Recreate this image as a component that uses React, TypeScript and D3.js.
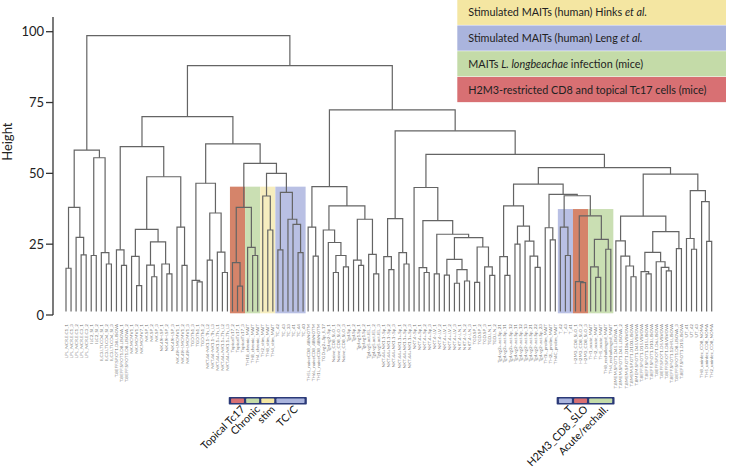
import React from 'react';
import * as d3 from 'd3';

const W = 748, H = 468;

const leafLabels = [
  "LPL_NCR.E.C1_1","LPL_NCR.E.C1_3","LPL_NCR.E.C1_2","LPL_NCR.E.C3_1","LPL_NCR.E.C3_2",
  "ILC2_SI_1","ILC2_SI_2",
  "ILC3.LTI.CD4_SI_1","ILC3.LTI.CD4_SI_2","ILC3.LTI.CD4_SI_3",
  "T.8EFF.SP.OT1.D8.LISOVA","T.8EFF.SP.OT1.D8.LISOVA_1","T.8EFF.SP.OT1.D8.LISOVA_2",
  "NK.MCMV1_1","NK.MCMV1_2","NK.MCMV7_1","NK.SP_1","NK.SP_2","NK.SP_3",
  "NK.49H.SP_1","NK.49H.SP_2","NK.49H.SP_3","NK.49H.MCMV1_1","NK.49H.MCMV1_2","NK.49H.MCMV1_3",
  "TGD.Th1_3","TGD.Th1_1","TGD.Th1_2",
  "NKT.44-NK1.1-.Th_L2","NKT.44-NK1.1-.Th_L3","NKT.44+NK1.1+.Th_L1","NKT.44+NK1.1+.Th_L2","NKT.44+NK1.1+.Th_L3",
  "TopicalTc17_2","TopicalTc17_1","TopicalTc17_3",
  "TH18_chronic_MAIT","TH8_chronic_MAIT","TH4_chronic_MAIT",
  "TH2_stim_MAIT","TH8_stim_MAIT","TH4_stim_MAIT",
  "TC_42","TC_43","TC_33","TC_41","TC_44","TC_40",
  "TH5L_naiveCD8_48hNOTM","TH6L_naiveCD8_48hNOTM","TH1L_naiveCD8_48hNOTM",
  "TGD.vg2+.Sp_IL17","Tgd.vg2-.Sp_1",
  "Naive_CD8_SLO_1","Naive_CD8_SLO_2","Naive_CD8_SLO_3",
  "Tgd.Sp_1","Tgd.Sp_2","Tgd.vg1.Sp_1","Tgd.vg1.Sp_2",
  "Tgd.vg5.act.IEL_1","Tgd.vg5.act.IEL_2","Tgd.vg5.act.IEL_3",
  "NKT.44+NK1.1-.Sp_1","NKT.44+NK1.1-.Sp_2","NKT.44+NK1.1-.Sp_3","NKT.44+NK1.1+.Sp_1","NKT.44+NK1.1+.Sp_2","NKT.44+NK1.1+.Sp_3",
  "NKT.4-.Sp_1","NKT.4+.Sp_1","NKT.4+.Sp_2","NKT.4+.Sp_3","NKT.4-.LV_1","NKT.4-.LV_2",
  "NKT.4+.LV_1","NKT.4+.LV_2","NKT.4+.LV_3",
  "NKT.4-.LN_1","NKT.4-.LN_2","NKT.4-.LN_3",
  "TGD.SP_1","TGD.SP_2","TGD.SP_3","TGD.LN_1","TGD.LN_2",
  "Tgd.vg2+.act.Sp_21","Tgd.vg2+.act.Sp_11","Tgd.vg2+.act.Sp_12","Tgd.vg2-.act.Sp_11","Tgd.vg2-.act.Sp_12",
  "Tgd.vg2-.act.Sp_13","Tgd.vg2-.act.Sp_21","Tgd.vg2-.act.Sp_22","Tgd.vg2-.act.Sp_23",
  "TH1L_prolim_MAIT","TH2L_prolim_MAIT","TH4C_prolim_MAIT",
  "T_42","T_43","T_41",
  "H2M3_CD8_SLO_1","H2M3_CD8_SLO_2","H2M3_CD8_SLO_3",
  "TH1_acute_MAIT","TH2_acute_MAIT","TH5_acute_MAIT","TH8_rechallenged_MAIT","TH4_rechallenged_MAIT",
  "T.8MEM.SP.OT1.D45.LISOVA_1","T.8MEM.SP.OT1.D45.LISOVA_2","T.8MEM.SP.OT1.D106.VSVOVA","T.8MEM.SP.OT1.D100.LISOVA","T.8MEM.SP.OT1.D45.VSVOVA",
  "T.8EFF.SP.OT1.D15.VSVOVA","T.8EFF.SP.OT1.D15.LISOVA","T.8EFF.SP.OT1.D10.LISOVA",
  "T.8EFF.SP.OT1.D6.LISOVA","T.8EFF.SP.OT1.D5.VSVOVA","T.8EFF.SP.OT1.D8.VSVOVA","T.8EFF.SP.OT1.12HR.LISOVA",
  "T.8EFF.SP.OT1.D8.LISOVA_3","T.8EFF.SP.OT1.D15LISOVA",
  "UT_41","UT_42","UT_43",
  "TH8_uninfec_CD8_NOMA","TH5_uninfec_CD8_NOMA","TH2_uninfec_CD8_NOMA"
];

// merges: [height, left, right]; numbers are leaf indices
const clusterA = [38, [16.5, 0, 1], [27.4, 2, [21.2, 3, 4]]];
const clusterB = [55.5, [21, 5, 6], [22, 7, [18, 8, 9]]];
const clusterC = [59.4,
  [23, 10, [17.5, 11, 12]],
  [48.8,
    [30.2, [20.7, 13, [10.4, 14, 15]], [25.8, [17.6, 16, [13.5, 17, 18]], [18, 19, [14.5, 20, 21]]]],
    [31, 22, [17.5, 23, 24]]]];
const clusterDL = [46.5, [12.2, 25, [11.7, 26, 27]], [36, [19.4, 28, 29], [22.2, 30, [15, 31, 32]]]];
const clusterE = [53.5,
  [38, [18.5, 33, [10.2, 34, 35]], [23.9, 36, [21, 37, 38]]],
  [50, [42, 39, [30, 40, 41]], [43.3, [23, 42, 43], [33.8, 44, [32, 45, [22, 46, 47]]]]]];
const clusterF = [45.3,
  [31, 48, [20.8, 49, 50]],
  [38.5, [30, 51, [25.6, 52, [21, [15, 53, 54], [17, 55, 56]]]],
    [33.8, [19.4, 57, [17.5, 58, 59]], [21.4, 60, [14.5, 61, 62]]]]];
const clusterG = [34, [20.6, 63, [16, 64, 65]], [22, 66, [18, 67, 68]]];
const clusterH = [45, 69, [33.3, [16.7, 70, [15, 71, 72]],
  [28.5, [14.5, 73, 74],
    [27.3, [19.6, [14.1, 75, 76], [16, [11.2, 77, 78], [12, 79, 80]]],
      [24, [11.5, 81, 82], [17, 83, [14, 84, 85]]]]]]];
const clusterV1 = [46.2,
  [38.5, [20.6, 86, [14, 87, 88]], [31.4, [25, 89, 90], [26.1, 91, [20.8, 92, [16.8, 93, 94]]]]],
  [42.6, [30.8, 95, [26.5, 96, 97]],
    [42.1, [31, 98, [21, 99, 100]],
      [35, [11.8, 101, [11.4, 102, 103]], [26.7, [17, 104, [13.3, 105, 106]], [23.2, 107, 108]]]]]];
const clusterV2 = [49.7,
  [34.9, [26.2, 109, [20.8, 110, [17.3, 111, [13.5, 112, 113]]]],
    [29.4, [22.1, [15.3, 114, [14.5, 115, 116]], [18.8, 117, [16.8, 118, [15.6, 119, 120]]]], [23.4, 121, 122]]],
  [43.9, [27, 123, [23.2, 124, 125]], [40, 126, [26, 127, 128]]]];

const tree = [98.6,
  [58.2, clusterA, clusterB],
  [88,
    [70, clusterC, [60.4, clusterDL, clusterE]],
    [72.4, clusterF, [65, clusterG, [56.7, clusterH, [52, clusterV1, clusterV2]]]]]];

const yTicks = [0, 25, 50, 75, 100];

const groupNames = ["Topical Tc17", "Chronic", "stim", "TC/C", "T", "H2M3_CD8_SLO", "Acute/rechall."];
const groupFirst = [33, 36, 39, 42, 98, 101, 104];
const groupLast = [35, 38, 41, 47, 100, 103, 108];
const groupKind = [3, 2, 0, 1, 1, 3, 2];
const groupTop = [45.3, 45.3, 45.3, 45.3, 37.4, 37.4, 37.4];
const boxSets = [[0, 1, 2, 3], [4, 5, 6]];

const legendTexts = [
  ["Stimulated MAITs (human) Hinks ", "et al.", ""],
  ["Stimulated MAITs (human) Leng ", "et al.", ""],
  ["MAITs ", "L. longbeachae", " infection (mice)"],
  ["H2M3-restricted CD8 and topical Tc17 cells (mice)", "", ""]
];
const legendColors = ["#f4e6a2", "#aab4dd", "#c4dba8", "#d87073"];
const shadeColors = ["#f6edbf", "#b9c0e4", "#cadfb3", "#d5846a"];

const FONT = "Lato, 'Open Sans', 'DejaVu Sans', sans-serif";

export default function App() {
  const y = d3.scaleLinear().domain([0, 100]).range([315, 31.7]);
  const x = d3.scaleLinear().domain([0, leafLabels.length - 1]).range([66, 711.7]);
  const step = x(1) - x(0);
  const leafH = 1.2;

  const root = d3.hierarchy<any>(tree, (d: any) => (Array.isArray(d) ? [d[1], d[2]] : null));
  root.eachAfter((n: any) => {
    if (n.children) {
      n.px = (n.children[0].px + n.children[1].px) / 2;
      n.ph = n.data[0];
    } else {
      n.px = x(n.data);
      n.ph = leafH;
    }
  });
  const links: string[] = [];
  root.each((n: any) => {
    if (n.children) {
      const [a, b] = n.children;
      links.push(`M${a.px},${y(a.ph)}V${y(n.ph)}H${b.px}V${y(b.ph)}`);
    }
  });

  const bandL = (i: number) => x(groupFirst[i]) - step / 2;
  const bandR = (i: number) => x(groupLast[i]) + step / 2;
  const boxY = 397;

  return (
    <svg width={W} height={H} style={{ position: 'absolute', left: 0, top: 0, background: '#fff' }} fontFamily={FONT}>
      {groupNames.map((g, i) => (
        <rect key={'s' + i} x={bandL(i)} y={y(groupTop[i])} width={bandR(i) - bandL(i)} height={313.3 - y(groupTop[i])}
          fill={shadeColors[groupKind[i]]} />
      ))}
      <g fill="none" stroke="#646464" strokeWidth={1.2}>
        {links.map((d, i) => <path key={i} d={d} />)}
      </g>
      <g fontSize={4.6} fill="#7a7a7a">
        {leafLabels.map((l, i) => (
          <text key={l + i} transform={`translate(${x(i) + 1.6},324) rotate(-90)`} textAnchor="end">{l}</text>
        ))}
      </g>
      <g stroke="#333" strokeWidth={1.3}>
        <line x1={53} x2={53} y1={17} y2={y(0)} />
        {yTicks.map(t => <line key={t} x1={46} x2={53} y1={y(t)} y2={y(t)} />)}
      </g>
      <g fontSize={13} fill="#222" textAnchor="end">
        {yTicks.map(t => <text key={t} x={44} y={y(t)} dy="0.35em">{t}</text>)}
      </g>
      <text transform={`translate(11.5,${141.7}) rotate(-90)`} textAnchor="middle" fontSize={13} fill="#222">Height</text>
      {legendTexts.map((t, i) => (
        <g key={'lg' + i}>
          <rect x={457.3} y={i * 25.75 - 0.3} width={268.7} height={25.2} fill={legendColors[i]} />
          <text x={468.3} y={i * 25.75 + 12.6} dy="0.35em" fontSize={10.8} fill="#222">
            <tspan>{t[0]}</tspan>
            {t[1] && <tspan fontStyle="italic">{t[1]}</tspan>}
            {t[2] && <tspan>{t[2]}</tspan>}
          </text>
        </g>
      ))}
      {boxSets.map((set, k) => {
        const l = bandL(set[0]), r = bandR(set[set.length - 1]);
        return (
          <g key={'bx' + k}>
            <rect x={l - 1.2} y={boxY} width={r - l + 2.4} height={7.5} fill="#2b3a78" rx={0.8} />
            {set.map(i => (
              <rect key={i} x={bandL(i) + 1.1} y={boxY + 1.6} width={bandR(i) - bandL(i) - 2.2} height={4.3}
                fill={legendColors[groupKind[i]]} rx={0.6} />
            ))}
          </g>
        );
      })}
      <g fontSize={10.6} fill="#111" textAnchor="end">
        {groupNames.map((g, i) => (
          <text key={'gl' + i} transform={`translate(${(bandL(i) + bandR(i)) / 2 + 8},410) rotate(-45)`}>{g}</text>
        ))}
      </g>
    </svg>
  );
}
